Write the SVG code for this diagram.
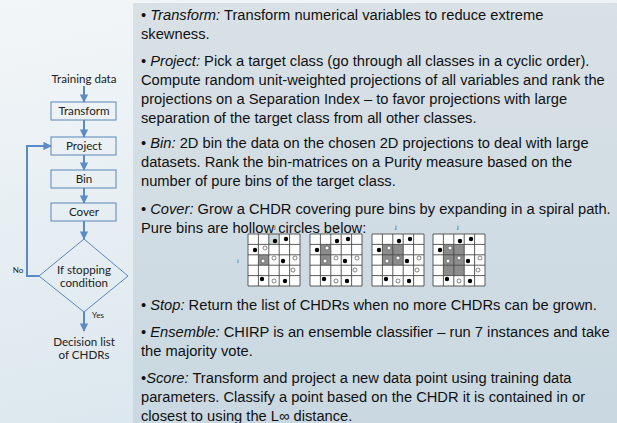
<svg xmlns="http://www.w3.org/2000/svg" width="617" height="423" viewBox="0 0 617 423">
<defs>
<linearGradient id="bg" x1="0" y1="0" x2="0.3" y2="1">
<stop offset="0" stop-color="#f3f6f8"/>
<stop offset="1" stop-color="#dbe7ee"/>
</linearGradient>
<linearGradient id="pn" x1="0" y1="0" x2="0" y2="1">
<stop offset="0" stop-color="#d9e1e6"/>
<stop offset="1" stop-color="#c9d8e1"/>
</linearGradient>
<marker id="ah" viewBox="0 0 10 10" refX="9" refY="5" markerWidth="4.2" markerHeight="4.2" orient="auto">
<path d="M0,0 L10,5 L0,10 Z" fill="#5b8bc5"/>
</marker>
<g id="dots">
<circle cx="27" cy="7" r="2.2" class="f"/>
<circle cx="38" cy="5" r="2.2" class="f"/>
<circle cx="7" cy="16" r="2.2" class="f"/>
<circle cx="17" cy="14" r="2" class="h"/>
<circle cx="15" cy="27" r="2" class="h"/>
<circle cx="26" cy="24" r="2" class="h"/>
<circle cx="35" cy="27" r="2.2" class="f"/>
<circle cx="47" cy="24" r="2" class="h"/>
<circle cx="45" cy="36" r="2" class="h"/>
<circle cx="14" cy="45" r="2.2" class="f"/>
<circle cx="26" cy="47" r="2" class="h"/>
<circle cx="37" cy="47" r="2.2" class="f"/>
</g>
<g id="gridlines">
<path d="M0,0H52V52H0Z M10.4,0V52 M20.8,0V52 M31.2,0V52 M41.6,0V52 M0,10.4H52 M0,20.8H52 M0,31.2H52 M0,41.6H52" fill="none" stroke="#4a4a4a" stroke-width="0.9"/>
</g>
</defs>
<style>
.t{font-family:"Liberation Sans",Arial,sans-serif;font-size:14.7px;fill:#111}
.fl{font-family:Lato,"Open Sans",sans-serif;font-size:11.6px;fill:#222;text-anchor:middle}
.sm{font-family:Lato,"Open Sans",sans-serif;font-size:8px;fill:#222;text-anchor:middle}
.box{fill:none;stroke:#5b86ba;stroke-width:1}
.ar{fill:none;stroke:#5b8bc5;stroke-width:2;marker-end:url(#ah)}
.f{fill:#000}
.h{fill:#fff;stroke:#555;stroke-width:0.7}
.tiny{font-family:"Liberation Sans",Arial,sans-serif;font-size:6px;fill:#333;text-anchor:middle}
</style>
<rect width="617" height="423" fill="url(#bg)"/>
<rect x="133" y="3" width="484" height="420" fill="url(#pn)"/>

<g id="text">
<text class="t" x="141" y="20">• <tspan font-style="italic">Transform:</tspan> Transform numerical variables to reduce extreme</text>
<text class="t" x="141" y="39">skewness.</text>
<text class="t" x="141" y="66">• <tspan font-style="italic">Project:</tspan> Pick a target class (go through all classes in a cyclic order).</text>
<text class="t" x="141" y="85">Compute random unit-weighted projections of all variables and rank the</text>
<text class="t" x="141" y="104">projections on a Separation Index – to favor projections with large</text>
<text class="t" x="141" y="123">separation of the target class from all other classes.</text>
<text class="t" x="141" y="148">• <tspan font-style="italic">Bin:</tspan> 2D bin the data on the chosen 2D projections to deal with large</text>
<text class="t" x="141" y="167">datasets. Rank the bin-matrices on a Purity measure based on the</text>
<text class="t" x="141" y="186">number of pure bins of the target class.</text>
<text class="t" x="141" y="214">• <tspan font-style="italic">Cover:</tspan> Grow a CHDR covering pure bins by expanding in a spiral path.</text>
<text class="t" x="141" y="233">Pure bins are hollow circles below:</text>
<text class="t" x="141" y="310">• <tspan font-style="italic">Stop:</tspan> Return the list of CHDRs when no more CHDRs can be grown.</text>
<text class="t" x="141" y="337">• <tspan font-style="italic">Ensemble:</tspan> CHIRP is an ensemble classifier – run 7 instances and take</text>
<text class="t" x="141" y="356">the majority vote.</text>
<text class="t" x="141" y="383">•<tspan font-style="italic">Score:</tspan> Transform and project a new data point using training data</text>
<text class="t" x="141" y="402">parameters. Classify a point based on the CHDR it is contained in or</text>
<text class="t" x="141" y="421">closest to using the L∞ distance.</text>
</g>

<g id="grid1" transform="translate(248,234)">
<rect width="52" height="52" fill="#fff"/>
<rect x="20.8" y="0" width="10.4" height="10.4" fill="#c9dbdb"/>
<rect x="10.4" y="20.8" width="10.4" height="10.4" fill="#8c8c8c"/>
<use href="#gridlines"/><use href="#dots"/>
<text class="tiny" x="-10" y="29">i</text>
<text class="tiny" x="27" y="-5">j</text>
</g>
<g id="grid2" transform="translate(310,234)">
<rect width="52" height="52" fill="#fff"/>
<rect x="10.4" y="10.4" width="10.4" height="20.8" fill="#8c8c8c"/>
<use href="#gridlines"/><use href="#dots"/>
<text class="tiny" x="27" y="-5">j</text>
</g>
<g id="grid3" transform="translate(372,234)">
<rect width="52" height="52" fill="#fff"/>
<rect x="10.4" y="10.4" width="20.8" height="20.8" fill="#8c8c8c"/>
<use href="#gridlines"/><use href="#dots"/>
<text class="tiny" x="24" y="-5">j</text>
</g>
<g id="grid4" transform="translate(433,234)">
<rect width="52" height="52" fill="#fff"/>
<rect x="10.4" y="10.4" width="20.8" height="31.2" fill="#8c8c8c"/>
<use href="#gridlines"/><use href="#dots"/>
<text class="tiny" x="25" y="-5">j</text>
</g>

<g id="connectors">
<path class="ar" d="M84,86 V102"/>
<path class="ar" d="M84,120 V137"/>
<path class="ar" d="M84,155 V170"/>
<path class="ar" d="M84,188 V203"/>
<path class="ar" d="M84,221 V239"/>
<path class="ar" d="M84,312 V331"/>
<path class="ar" d="M39,276 H27 V146 H51" stroke-width="2.4"/>
<text class="sm" x="18" y="273">No</text>
<text class="sm" x="98" y="318">Yes</text>
</g>

<g id="n-training"><text class="fl" x="84" y="83">Training data</text></g>
<g id="n-transform"><rect class="box" x="51" y="102" width="65" height="18"/><text class="fl" x="84" y="115">Transform</text></g>
<g id="n-project"><rect class="box" x="51" y="137" width="65" height="18"/><text class="fl" x="84" y="150">Project</text></g>
<g id="n-bin"><rect class="box" x="51" y="170" width="65" height="18"/><text class="fl" x="84" y="183">Bin</text></g>
<g id="n-cover"><rect class="box" x="51" y="203" width="65" height="18"/><text class="fl" x="84" y="216">Cover</text></g>
<g id="n-stop"><path class="box" d="M84,239 L128,276 L84,312 L39,276 Z"/><text class="fl" x="84" y="274">If stopping</text><text class="fl" x="84" y="287">condition</text></g>
<g id="n-result"><text class="fl" x="84" y="346">Decision list</text><text class="fl" x="84" y="359">of CHDRs</text></g>
</svg>
